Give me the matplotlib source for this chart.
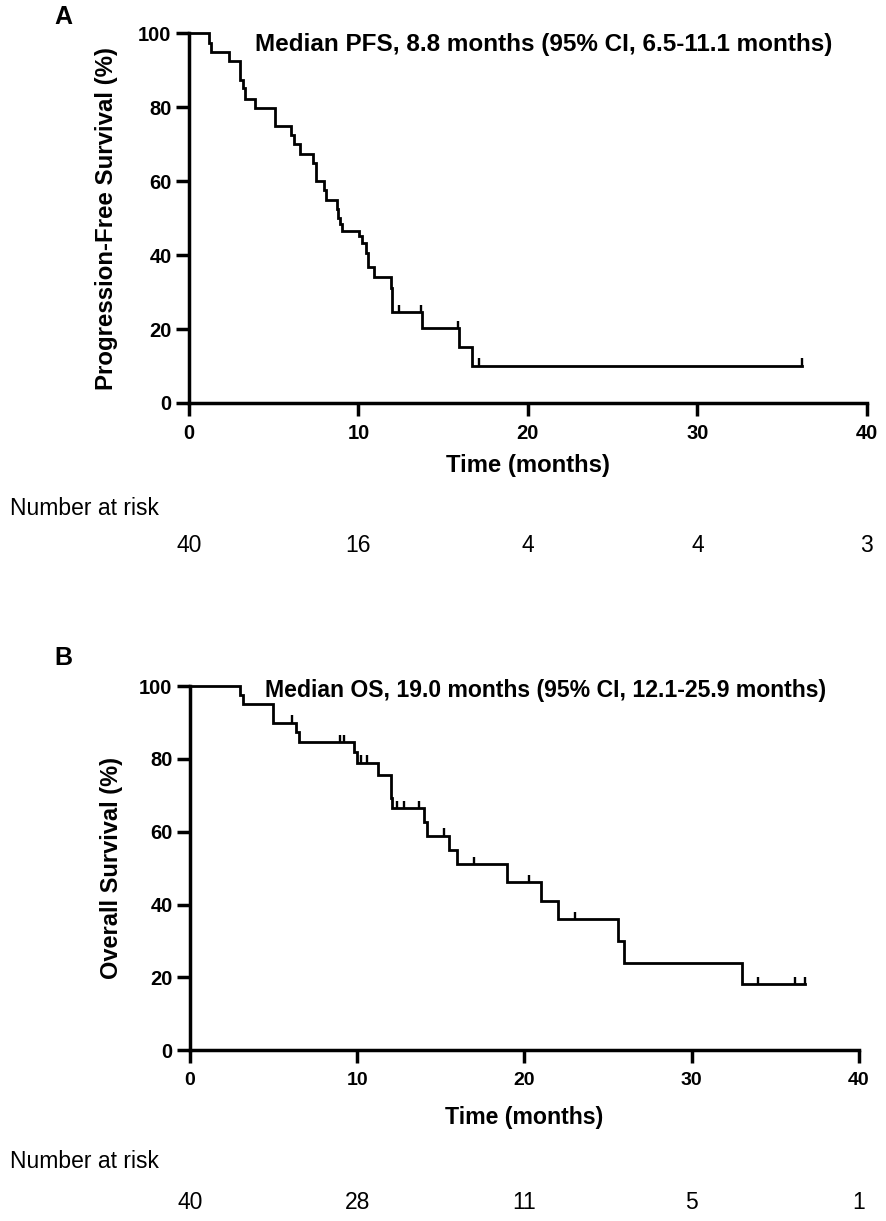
import matplotlib
matplotlib.use("Agg")
import matplotlib.pyplot as plt
import matplotlib.transforms as mtransforms

plt.rcParams['font.family'] = ['Liberation Sans', 'DejaVu Sans']

# Kaplan-Meier steps (time in months, survival in %)
pfs_time = [0, 1.2, 1.3, 2.34, 3.0, 3.17, 3.3, 3.9, 5.08, 6.0, 6.2, 6.55,
            7.34, 7.48, 7.97, 8.09, 8.72, 8.82, 8.91, 9.01, 10.05, 10.19,
            10.45, 10.55, 10.92, 11.9, 12.0, 13.74, 15.95, 16.7]
pfs_surv = [100, 97.4, 94.9, 92.4, 87.4, 85.1, 82.3, 79.8, 74.9, 72.4, 70.0,
            67.4, 65.0, 60.0, 57.5, 55.0, 52.5, 50.0, 48.5, 46.4, 45.2, 43.2,
            40.5, 36.9, 34.0, 31.1, 24.6, 20.3, 15.1, 10.1]
pfs_end = 36.2
pfs_censor = [12.4, 13.7, 15.9, 17.1, 36.2]

os_time = [0, 2.99, 3.19, 4.94, 6.34, 6.54, 9.83, 9.97, 11.22, 12.0, 12.1,
           14.0, 14.2, 15.5, 15.95, 18.94, 21.0, 22.0, 25.57, 25.97, 32.99]
os_surv = [100, 97.5, 95.0, 90.0, 87.4, 84.7, 82.0, 79.0, 75.5, 69.4, 66.4,
           62.7, 58.9, 54.9, 51.0, 46.2, 41.1, 36.0, 30.0, 24.0, 18.1]
os_end = 36.8
os_censor = [6.1, 9.0, 9.2, 10.2, 10.6, 12.4, 12.8, 13.7, 15.2, 17.0, 20.25,
             23.0, 33.95, 36.15, 36.8]

risk_times = [0, 10, 20, 30, 40]
pfs_risk = [40, 16, 4, 4, 3]
os_risk = [40, 28, 11, 5, 1]


def surv_at(times, surv, t):
    s = surv[0]
    for ti, si in zip(times, surv):
        if ti <= t:
            s = si
    return s


def km_panel(ax, times, surv, end, censor, title, title_xy, title_fs, ylabel,
             letter, letter_xy, risk, lay):
    xs = list(times) + [end]
    ys = list(surv) + [surv[-1]]
    ax.step(xs, ys, where='post', color='black', lw=2.0, solid_joinstyle='miter',
            clip_on=False, zorder=3)
    for c in censor:
        s = surv_at(times, surv, c)
        ax.vlines(c, s, s + 2.0, color='black', lw=1.7, clip_on=False, zorder=3)
    ax.set_xlim(0, 40)
    ax.set_ylim(0, 100)
    ax.set_xticks([0, 10, 20, 30, 40])
    ax.set_yticks([0, 20, 40, 60, 80, 100])
    for sp in ['top', 'right']:
        ax.spines[sp].set_visible(False)
    for sp in ['left', 'bottom']:
        ax.spines[sp].set_linewidth(2.5)
    ax.tick_params(axis='both', length=9.5, width=2.5)
    ax.tick_params(axis='x', labelsize=lay['xtick'], pad=6)
    ax.tick_params(axis='y', labelsize=14.5, pad=3)
    for lab in ax.get_xticklabels() + ax.get_yticklabels():
        lab.set_fontweight('bold')
    ax.set_xlabel('Time (months)', fontsize=lay['xlab'], fontweight='bold', va='center')
    ax.xaxis.set_label_coords(0.5, lay['xlab_y'])
    ax.set_ylabel(ylabel, fontsize=lay['ylab'], fontweight='bold', va='center')
    ax.yaxis.set_label_coords(lay['ylab_x'], 0.5)
    ax.text(title_xy[0], title_xy[1], title, fontsize=title_fs, fontweight='bold',
            ha='left', va='center')
    ax.text(letter_xy[0], letter_xy[1], letter, transform=ax.transAxes, fontsize=18,
            fontweight='bold', ha='left', va='center')
    # number at risk table below the axis
    trans = mtransforms.blended_transform_factory(ax.transData, ax.transAxes)
    ax.text(lay['risk_x'], lay['risk_head_y'], 'Number at risk', transform=ax.transAxes,
            fontsize=16.5, ha='left', va='center')
    for t, n in zip(risk_times, risk):
        ax.text(t, lay['risk_y'], str(n), transform=trans, fontsize=16.5,
                ha='center', va='center')


fig = plt.figure(figsize=(8.86, 12.21), dpi=100)
ax1 = fig.add_axes([0.2133, 0.670, 0.765, 0.3027])
ax2 = fig.add_axes([0.2144, 0.140, 0.755, 0.298])

km_panel(ax1, pfs_time, pfs_surv, pfs_end, pfs_censor,
         'Median PFS, 8.8 months (95% CI, 6.5-11.1 months)', (3.9, 97.0), 17.5,
         'Progression-Free Survival (%)', 'A', (-0.198, 1.043), pfs_risk,
         dict(xtick=14.5, xlab=17.2, xlab_y=-0.170, ylab=17.3, ylab_x=-0.121,
              risk_x=-0.264, risk_head_y=-0.285, risk_y=-0.387))
km_panel(ax2, os_time, os_surv, os_end, os_censor,
         'Median OS, 19.0 months (95% CI, 12.1-25.9 months)', (4.5, 98.9), 16.6,
         'Overall Survival (%)', 'B', (-0.202, 1.077), os_risk,
         dict(xtick=14, xlab=16.7, xlab_y=-0.184, ylab=17, ylab_x=-0.117,
              risk_x=-0.269, risk_head_y=-0.305, risk_y=-0.418))

fig.savefig('out.png', dpi=100, facecolor='white')
